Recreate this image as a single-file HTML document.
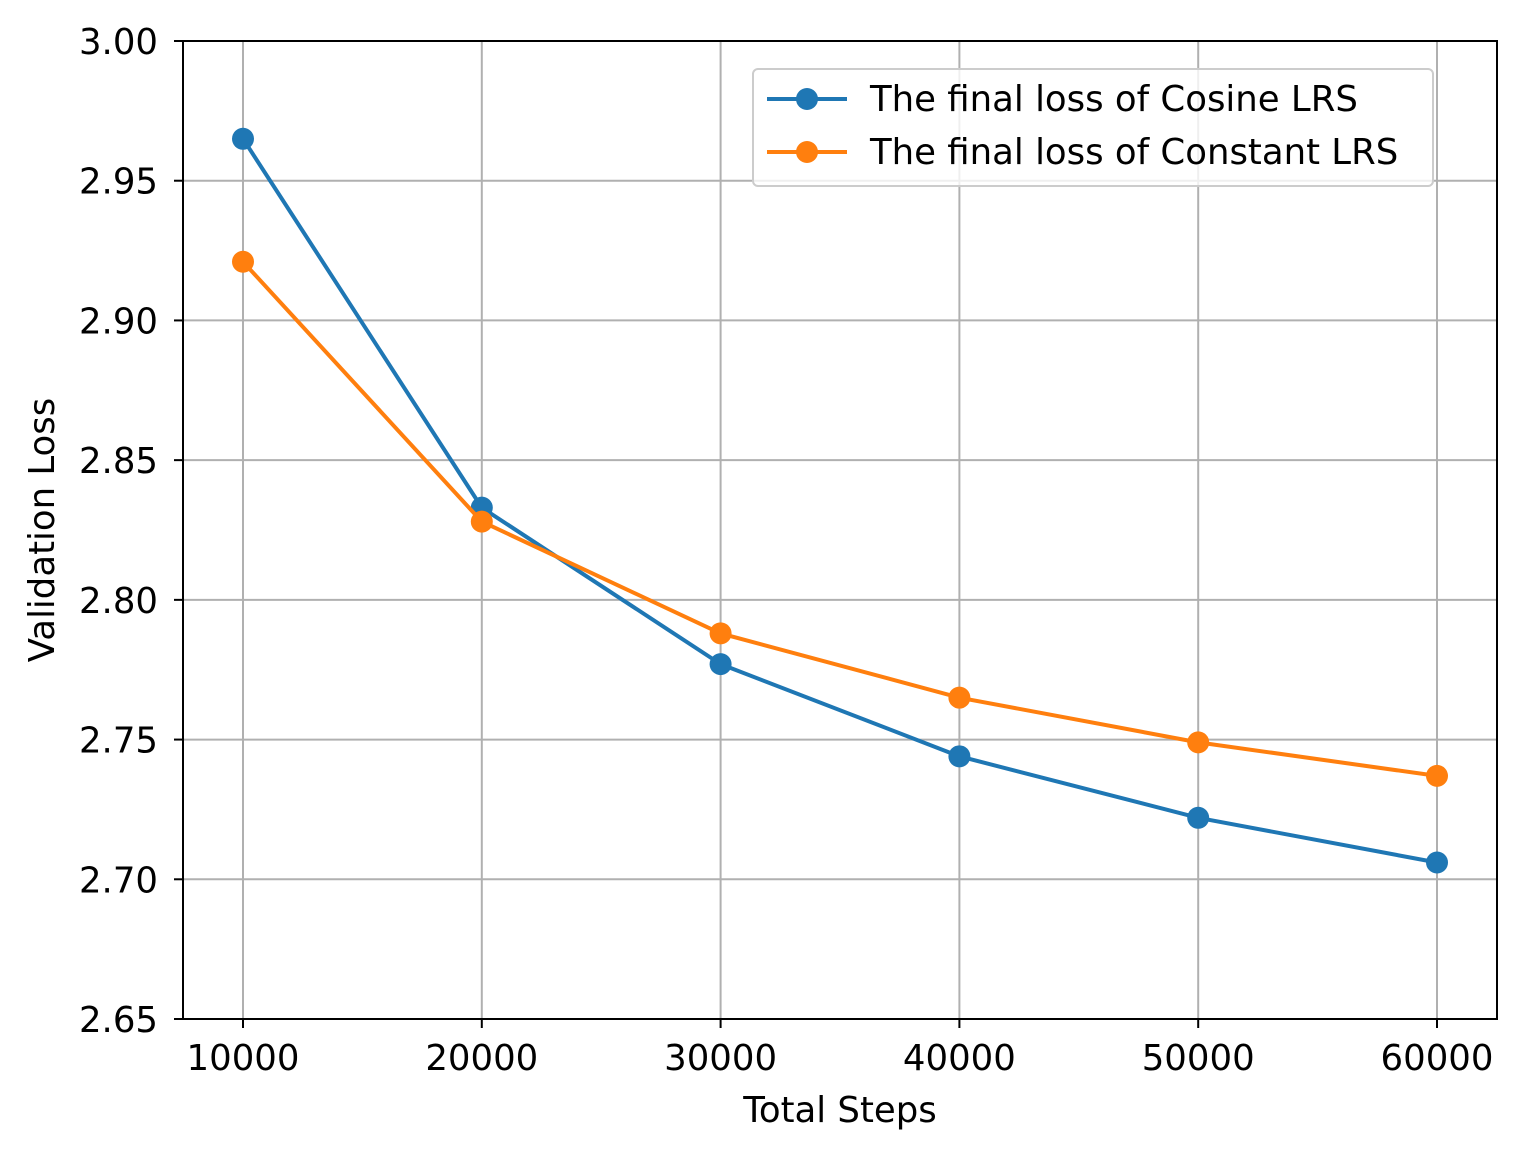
<!DOCTYPE html>
<html><head><meta charset="utf-8">
<style>
html,body{margin:0;padding:0;background:#fff;}
svg{display:block;font-family:"DejaVu Sans","Liberation Sans",sans-serif;}
</style></head>
<body>
<svg id="chart" width="1524" height="1157" viewBox="0 0 1524 1157">
<g id="grid"></g>
<g id="series"></g>
<rect x="183" y="41" width="1314" height="978" fill="none" stroke="#000" stroke-width="2"/>
<g id="ticks"></g>
<text x="840" y="1122" font-size="35.5" text-anchor="middle">Total Steps</text>
<text transform="translate(54,530) rotate(-90)" font-size="35.5" text-anchor="middle">Validation Loss</text>
<g>
<rect x="753" y="69" width="680" height="117" rx="5" fill="#fff" fill-opacity="0.8" stroke="#ccc" stroke-width="2"/>
<g>
<line x1="767" y1="99" x2="847" y2="99" stroke="#1f77b4" stroke-width="4"/>
<circle cx="807" cy="99" r="11" fill="#1f77b4"/>
<text x="870" y="111" font-size="35.5">The final loss of Cosine LRS</text>
</g>
<g>
<line x1="767" y1="152" x2="847" y2="152" stroke="#ff7f0e" stroke-width="4"/>
<circle cx="807" cy="152" r="11" fill="#ff7f0e"/>
<text x="870" y="164" font-size="35.5">The final loss of Constant LRS</text>
</g>
</g>
</svg>
<script>
const steps = [10000, 20000, 30000, 40000, 50000, 60000];
const cosineLoss = [2.965, 2.833, 2.777, 2.744, 2.722, 2.706];
const constantLoss = [2.921, 2.828, 2.788, 2.765, 2.749, 2.737];
const yTicks = [2.65, 2.70, 2.75, 2.80, 2.85, 2.90, 2.95, 3.00];
const xTicks = [10000, 20000, 30000, 40000, 50000, 60000];

const NS = "http://www.w3.org/2000/svg";
const L = 183, R = 1497, T = 41, B = 1019;
function xs(v){ return 243 + (v - 10000) / 50000 * (1437 - 243); }
function ys(v){ return B - (v - 2.65) / 0.35 * (B - T); }
function mk(tag, attrs, parent){
  const e = document.createElementNS(NS, tag);
  for (const k in attrs) e.setAttribute(k, attrs[k]);
  parent.appendChild(e); return e;
}
const grid = document.getElementById('grid');
const ticks = document.getElementById('ticks');
const series = document.getElementById('series');

xTicks.forEach(v => {
  const x = xs(v);
  const g = mk('line', {x1:x, x2:x, y1:T, y2:B, stroke:'#b0b0b0', 'stroke-width':2}, grid);
  
  
  const t = mk('line', {x1:x, x2:x, y1:B, y2:B+9, stroke:'#000', 'stroke-width':2}, ticks);
  
  
  const lb = mk('text', {x:x, y:B+51, 'font-size':35.5, 'text-anchor':'middle'}, ticks);
  lb.textContent = String(v);
  
  
});
yTicks.forEach(v => {
  const y = ys(v);
  const g = mk('line', {x1:L, x2:R, y1:y, y2:y, stroke:'#b0b0b0', 'stroke-width':2}, grid);
  
  
  const t = mk('line', {x1:L-9, x2:L, y1:y, y2:y, stroke:'#000', 'stroke-width':2}, ticks);
  
  
  const lb = mk('text', {x:L-25, y:y+13, 'font-size':35.5, 'text-anchor':'end'}, ticks);
  lb.textContent = v.toFixed(2);
  
  
});

function drawSeries(vals, color, name){
  const pts = steps.map((s,i) => xs(s) + ',' + ys(vals[i])).join(' ');
  const pl = mk('polyline', {points:pts, fill:'none', stroke:color, 'stroke-width':4, 'stroke-linejoin':'round'}, series);
  
  
  steps.forEach((s,i) => {
    const c = mk('circle', {cx:xs(s), cy:ys(vals[i]), r:11, fill:color}, series);
    
    
  });
}
drawSeries(cosineLoss, '#1f77b4', 'cosine');
drawSeries(constantLoss, '#ff7f0e', 'constant');
</script>
</body></html>
